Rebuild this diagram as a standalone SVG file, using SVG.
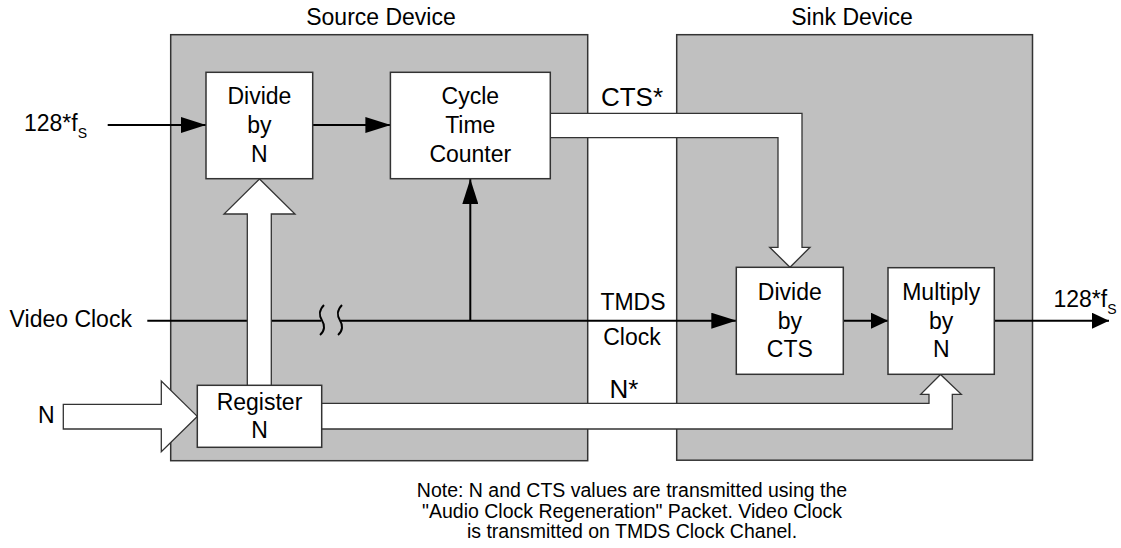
<svg xmlns="http://www.w3.org/2000/svg" width="1121" height="548" viewBox="0 0 1121 548">
<style>
text{font-family:"Liberation Sans",Arial,sans-serif;fill:#000}
.lbl{font-size:23px}
.big{font-size:26px}
.sub{font-size:14px}
.note{font-size:19.5px}
.dev{fill:#c0c0c0;stroke:#333;stroke-width:1.5}
.blk{fill:#fff;stroke:#333;stroke-width:1.5}
.wire{fill:none;stroke:#000;stroke-width:2}
.wide{fill:#fff;stroke:#333;stroke-width:1.3}
</style>
<defs>
<marker id="ah" markerUnits="userSpaceOnUse" markerWidth="25" markerHeight="16" refX="25" refY="8" orient="auto"><path d="M0,0 L25,8 L0,16 Z" fill="#000"/></marker>
<marker id="as" markerUnits="userSpaceOnUse" markerWidth="17" markerHeight="16" refX="17" refY="8" orient="auto"><path d="M0,0 L17,8 L0,16 Z" fill="#000"/></marker>
</defs>

<g id="source-device">
<rect class="dev" x="170.7" y="34.7" width="417" height="426"/>
<text class="lbl" x="381" y="25" text-anchor="middle">Source Device</text>
</g>
<g id="sink-device">
<rect class="dev" x="676.7" y="34.7" width="355.8" height="425.5"/>
<text class="lbl" x="852" y="25" text-anchor="middle">Sink Device</text>
</g>

<g id="connectors">
<line class="wire" x1="107.7" y1="125" x2="206" y2="125" marker-end="url(#ah)"/>
<line class="wire" x1="312.7" y1="125" x2="390.4" y2="125" marker-end="url(#ah)"/>
<line class="wire" x1="147.3" y1="320.7" x2="321" y2="320.7"/>
<line class="wire" x1="341" y1="320.7" x2="736.3" y2="320.7" marker-end="url(#ah)"/>
<path class="wire" d="M324,305 C319,310 319,316 322,320.5 C325,325 325,331 320,335"/>
<path class="wire" d="M342,305 C337,310 337,316 340,320.5 C343,325 343,331 338,335"/>
<line class="wire" x1="470.3" y1="320.7" x2="470.3" y2="179" marker-end="url(#ah)"/>
<line class="wire" x1="843.3" y1="320.7" x2="888" y2="320.7" marker-end="url(#as)"/>
<line class="wire" x1="994.3" y1="320.7" x2="1109" y2="320.7" marker-end="url(#as)"/>
<path class="wide" d="M247.3,385.3 V214 H224 L259.5,179 L295,214 H271.3 V385.3"/>
<path class="wide" d="M550.3,113.3 H802 V247.3 H810 L790,267.3 L769.7,247.3 H778 V137.7 H550.3"/>
<path class="wide" d="M321.7,403.3 H929 V394.3 H920.7 L940.5,374.5 L961.3,394.3 H952.3 V429 H321.7"/>
<path class="wide" d="M63.3,404.3 H161.3 V381 L197.3,416.4 L161.3,451.7 V429 H63.3 Z"/>
</g>

<g id="divide-by-n">
<rect class="blk" x="206" y="72.3" width="106.7" height="106.4"/>
<text class="lbl" x="259.4" y="104.3" text-anchor="middle">Divide</text>
<text class="lbl" x="259.4" y="133" text-anchor="middle">by</text>
<text class="lbl" x="259.4" y="161.7" text-anchor="middle">N</text>
</g>
<g id="cycle-time-counter">
<rect class="blk" x="390.4" y="72.3" width="159.9" height="106.4"/>
<text class="lbl" x="470.3" y="104.3" text-anchor="middle">Cycle</text>
<text class="lbl" x="470.3" y="133" text-anchor="middle">Time</text>
<text class="lbl" x="470.3" y="161.7" text-anchor="middle">Counter</text>
</g>
<g id="register-n">
<rect class="blk" x="197.3" y="385.3" width="124.4" height="62"/>
<text class="lbl" x="259.5" y="410" text-anchor="middle">Register</text>
<text class="lbl" x="259.5" y="437.7" text-anchor="middle">N</text>
</g>
<g id="divide-by-cts">
<rect class="blk" x="736.3" y="267.3" width="107" height="107"/>
<text class="lbl" x="789.8" y="300" text-anchor="middle">Divide</text>
<text class="lbl" x="789.8" y="329" text-anchor="middle">by</text>
<text class="lbl" x="789.8" y="357" text-anchor="middle">CTS</text>
</g>
<g id="multiply-by-n">
<rect class="blk" x="888" y="267.7" width="106.3" height="106.6"/>
<text class="lbl" x="941.2" y="300" text-anchor="middle">Multiply</text>
<text class="lbl" x="941.2" y="329" text-anchor="middle">by</text>
<text class="lbl" x="941.2" y="357" text-anchor="middle">N</text>
</g>

<g id="labels">
<text class="lbl" x="24" y="130.7">128*f<tspan class="sub" dy="7.5">S</tspan></text>
<text class="lbl" x="1053.5" y="306.7">128*f<tspan class="sub" dy="7.5">S</tspan></text>
<text class="lbl" x="9.6" y="327.3">Video Clock</text>
<text class="lbl" x="38" y="423.3">N</text>
<text class="big" x="632" y="106" text-anchor="middle">CTS*</text>
<text class="lbl" x="633" y="310" text-anchor="middle">TMDS</text>
<text class="lbl" x="632" y="345" text-anchor="middle">Clock</text>
<text class="big" x="624" y="398" text-anchor="middle">N*</text>
<text class="note" x="632" y="497" text-anchor="middle">Note: N and CTS values are transmitted using the</text>
<text class="note" x="632" y="517.5" text-anchor="middle">"Audio Clock Regeneration" Packet. Video Clock</text>
<text class="note" x="632" y="538" text-anchor="middle">is transmitted on TMDS Clock Chanel.</text>
</g>
</svg>
